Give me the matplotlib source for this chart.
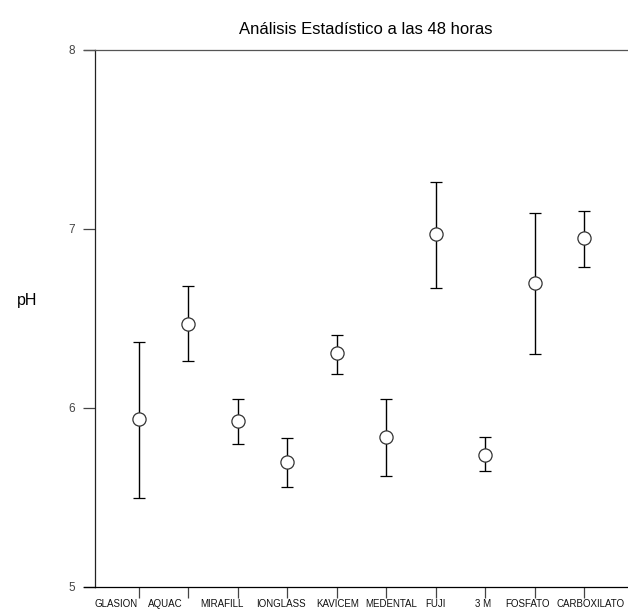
import matplotlib
matplotlib.use('Agg')
import matplotlib.pyplot as plt
import matplotlib.transforms as mtransforms
import numpy as np

# materiales y pH a las 48 horas (media, limite inferior, limite superior)
materials = ['GLASION', 'AQUAC', 'MIRAFILL', 'IONGLASS', 'KAVICEM',
             'MEDENTAL', 'FUJI', '3 M', 'FOSFATO', 'CARBOXILATO']
ph_mean = [5.94, 6.47, 5.93, 5.70, 6.31, 5.84, 6.97, 5.74, 6.70, 6.95]
ph_low = [5.50, 6.26, 5.80, 5.56, 6.19, 5.62, 6.67, 5.65, 6.30, 6.79]
ph_high = [6.37, 6.68, 6.05, 5.83, 6.41, 6.05, 7.26, 5.84, 7.09, 7.10]

# desplazamiento horizontal de las etiquetas (px), como en el original
label_shift = [-23, -23, -16, -6, 1, 5, 0, -2, -7, 7]

plt.rcParams['font.family'] = ['Liberation Sans', 'DejaVu Sans']

fig = plt.figure(figsize=(6.28, 6.13), dpi=100)
ax = fig.add_axes([95 / 628, 26 / 613, 533 / 628, 537 / 613])

x = np.arange(1, len(materials) + 1)
mean = np.array(ph_mean)
yerr = [mean - np.array(ph_low), np.array(ph_high) - mean]

ax.errorbar(x, mean, yerr=yerr, fmt='o', mfc='white', mec='#333333',
            mew=0.9, ms=9.5, ecolor='black', elinewidth=1.0,
            capsize=4.5, capthick=1.0)

ax.set_xlim(0.11, 10.89)
ax.set_ylim(5, 8)
ax.set_yticks([5, 6, 7, 8])
ax.set_xticks(x)
ax.set_xticklabels([])

# etiquetas de categoria, algo desplazadas como en la figura original
base = ax.get_xaxis_transform()
for xi, name, dx in zip(x, materials, label_shift):
    tr = base + mtransforms.ScaledTranslation(dx / 100, -17 / 100, fig.dpi_scale_trans)
    ax.text(xi, 0, name, transform=tr, ha='center', va='center',
            fontsize=7, color='#111111', clip_on=False)

ax.tick_params(axis='y', direction='out', length=8.5, width=0.9,
               color='#444444', labelsize=8.5, labelcolor='#444444', pad=6)
ax.tick_params(axis='x', direction='out', length=8, width=0.9,
               color='#444444')

ax.spines['right'].set_visible(False)
ax.spines['top'].set_color('#555555')
ax.spines['bottom'].set_color('black')
ax.spines['left'].set_color('#222222')
for s in ax.spines.values():
    s.set_linewidth(0.9)

# la linea superior y la inferior se alargan hacia la izquierda
ax.plot([-0.12, 0.11], [8, 8], color='#555555', lw=0.9, clip_on=False)
ax.plot([-0.12, 0.11], [5, 5], color='black', lw=0.9, clip_on=False)

ax.set_ylabel('pH', rotation=0, fontsize=11.5)
ax.yaxis.set_label_coords(-0.128, 0.52)

fig.text(366 / 628, 1 - 30 / 613, 'Análisis Estadístico a las 48 horas',
         ha='center', va='center', fontsize=12)

fig.savefig('out.png', dpi=100)
